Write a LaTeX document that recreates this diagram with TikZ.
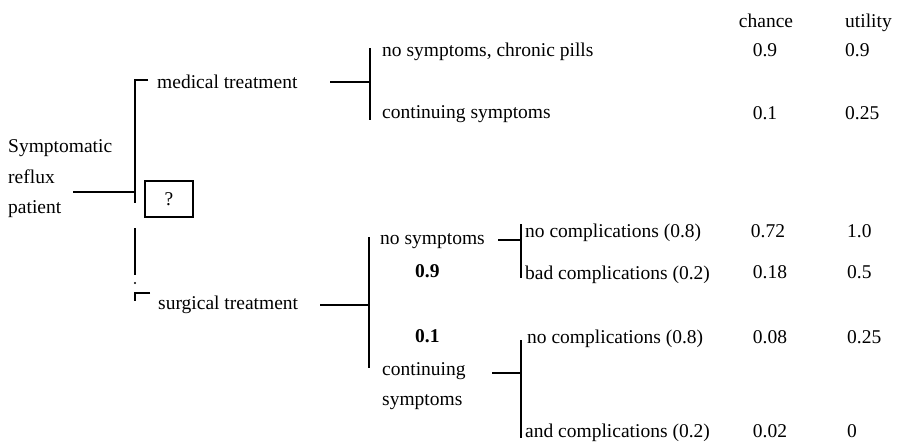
\documentclass[tikz,border=0pt]{standalone}
\usepackage{fontspec}
\setmainfont{Liberation Serif}
\begin{document}
\begin{tikzpicture}[x=1pt,y=-1pt,
  lbl/.style={anchor=base west,inner sep=0pt,font=\fontsize{19.5}{22}\selectfont},
  num/.style={anchor=base,inner sep=0pt,font=\fontsize{19.5}{22}\selectfont},
  unum/.style={anchor=base west,inner sep=0pt,font=\fontsize{19.5}{22}\selectfont},
  prob/.style={anchor=base west,inner sep=0pt,font=\fontsize{19.5}{22}\selectfont\bfseries},
  branch/.style={line width=1.6pt}]
\useasboundingbox (0,0) rectangle (901,445);

% root and decision
\node[lbl] (sym) at (8,152) {Symptomatic};
\node[lbl] (ref) at (8,183) {reflux};
\node[lbl] (pat) at (8,213) {patient};
\node[draw,line width=1.4pt,minimum width=48pt,minimum height=36pt,inner sep=0pt,
      font=\fontsize{19.5}{22}\selectfont] (dec) at (169,199) {?};

\coordinate (rootEnd) at (73,192);
\coordinate (dJoin) at (135,192);
\coordinate (dTop) at (135,80);
\coordinate (dTopTick) at (148,80);
\coordinate (dMidA) at (135,203);
\coordinate (dMidB) at (135,228);
\coordinate (dMidC) at (135,275);
\coordinate (dBot) at (135,293);
\coordinate (dBotEnd) at (135,301);
\coordinate (dBotTick) at (150,293);

\draw[branch] (rootEnd) -- (dJoin);
\draw[branch] (dTopTick) -- (dTop) -- (dMidA);
\draw[branch] (dMidB) -- (dMidC);
\fill (135,283) circle (1.1pt);
\draw[branch] (dBotTick) -- (dBot) -- (dBotEnd);

% the two options
\node[lbl] (med) at (157,88) {medical treatment};
\node[lbl] (sur) at (158,309) {surgical treatment};

% medical branch
\coordinate (medA) at (330,82);
\coordinate (medB) at (370,82);
\coordinate (medTop) at (370,48);
\coordinate (medBot) at (370,120);
\draw[branch] (medA) -- (medB);
\draw[branch] (medTop) -- (medBot);
\node[lbl] (m1) at (382,56) {no symptoms, chronic pills};
\node[lbl] (m2) at (382,118) {continuing symptoms};

% surgical branch
\coordinate (surA) at (320,305);
\coordinate (surB) at (369,305);
\coordinate (surTop) at (369,237);
\coordinate (surBot) at (369,368);
\draw[branch] (surA) -- (surB);
\draw[branch] (surTop) -- (surBot);
\node[lbl] (s1) at (380,244) {no symptoms};
\node[prob] (p1) at (415,277) {0.9};
\node[prob] (p2) at (415,342) {0.1};
\node[lbl] (s2a) at (382,375) {continuing};
\node[lbl] (s2b) at (382,405) {symptoms};

% outcomes after surgery
\coordinate (nsA) at (498,240);
\coordinate (nsB) at (521,240);
\coordinate (nsTop) at (521,224);
\coordinate (nsBot) at (521,278);
\draw[branch] (nsA) -- (nsB);
\draw[branch] (nsTop) -- (nsBot);
\node[lbl] (o1) at (525,237) {no complications (0.8)};
\node[lbl] (o2) at (525,279) {bad complications (0.2)};

\coordinate (csA) at (492,373);
\coordinate (csB) at (521,373);
\coordinate (csTop) at (521,340);
\coordinate (csBot) at (521,438);
\draw[branch] (csA) -- (csB);
\draw[branch] (csTop) -- (csBot);
\node[lbl] (o3) at (527,343) {no complications (0.8)};
\node[lbl] (o4) at (525,437) {and complications (0.2)};

% chance and utility columns
\node[num] (hc) at (766,27) {chance};
\node[unum] (hu) at (845,27) {utility};
\node[num] (c1) at (765,56) {0.9};
\node[num] (c2) at (765,119) {0.1};
\node[num] (c3) at (768,237) {0.72};
\node[num] (c4) at (770,278) {0.18};
\node[num] (c5) at (770,343) {0.08};
\node[num] (c6) at (770,437) {0.02};
\node[unum] (u1) at (845,56) {0.9};
\node[unum] (u2) at (845,119) {0.25};
\node[unum] (u3) at (847,237) {1.0};
\node[unum] (u4) at (847,278) {0.5};
\node[unum] (u5) at (847,343) {0.25};
\node[unum] (u6) at (847,437) {0};
\end{tikzpicture}
\end{document}
